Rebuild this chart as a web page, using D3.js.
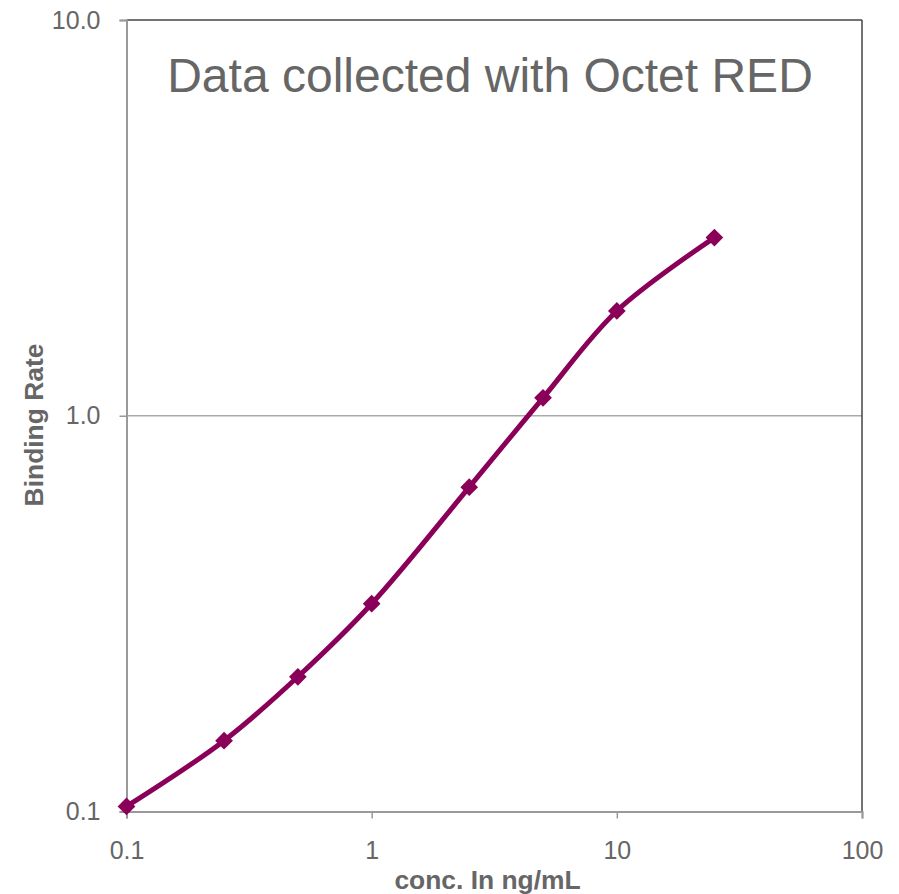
<!DOCTYPE html>
<html>
<head>
<meta charset="utf-8">
<script src="https://cdn.jsdelivr.net/npm/d3@7"></script>
<style>
  body { margin: 0; background: #fff; }
  svg { font-family: "Liberation Sans", Arial, sans-serif; }
</style>
</head>
<body>
<div id="chart"></div>
<script>
// concentration (ng/mL) and binding rate
const conc = [0.1, 0.25, 0.5, 1, 2.5, 5, 10, 25];
const binding = [0.103, 0.151, 0.219, 0.335, 0.66, 1.11, 1.84, 2.82];
const xTicks = [0.1, 1, 10, 100];
const yTicks = [0.1, 1, 10];
const title = 'Data collected with Octet RED';

const W = 899, H = 894;
const margin = { top: 20, right: 37, bottom: 82.5, left: 126.5 };
const width = W - margin.left - margin.right;
const height = H - margin.top - margin.bottom;

const svg = d3.select('#chart').append('svg')
    .attr('width', W)
    .attr('height', H);

const g = svg.append('g')
    .attr('transform', `translate(${margin.left},${margin.top})`);

const x = d3.scaleLog().domain([0.1, 100]).range([0, width]);
const y = d3.scaleLog().domain([0.1, 10]).range([height, 0]);

// gridline at 1.0
g.selectAll('.grid')
    .data(yTicks.filter(d => d > 0.1 && d < 10))
    .enter().append('line')
    .attr('x1', 0).attr('x2', width)
    .attr('y1', d => y(d)).attr('y2', d => y(d))
    .attr('stroke', '#aaa').attr('stroke-width', 1.5);

// frame: top/right darker
g.append('line').attr('x1', 0).attr('x2', width).attr('y1', 0).attr('y2', 0)
    .attr('stroke', '#444').attr('stroke-width', 1.5);
g.append('line').attr('x1', width).attr('x2', width).attr('y1', 0).attr('y2', height)
    .attr('stroke', '#444').attr('stroke-width', 1.5);

const xAxis = g.append('g')
    .attr('transform', `translate(0,${height})`)
    .call(d3.axisBottom(x).tickValues(xTicks).tickFormat(d3.format('~g')).tickSize(7).tickPadding(23));
const yAxis = g.append('g')
    .call(d3.axisLeft(y).tickValues(yTicks).tickFormat(d3.format('.1f')).tickSize(7).tickPadding(19));

[xAxis, yAxis].forEach(a => {
    a.attr('font-size', null).attr('font-family', null);
    a.select('.domain').attr('stroke', '#999').attr('stroke-width', 2);
    a.selectAll('.tick line').attr('stroke', '#999').attr('stroke-width', 1.5);
    a.selectAll('text')
        .attr('fill', '#666')
        .style('font-size', '25px');
});

const pts = conc.map((c, i) => [c, binding[i]]);

g.append('path')
    .datum(pts)
    .attr('fill', 'none')
    .attr('stroke', '#8a0058')
    .attr('stroke-width', 5)
    .attr('d', d3.line()
        .x(d => x(d[0]))
        .y(d => y(d[1]))
        .curve(d3.curveCatmullRom.alpha(0.5)));

g.selectAll('.pt')
    .data(pts)
    .enter().append('path')
    .attr('class', 'pt')
    .attr('transform', d => `translate(${x(d[0])},${y(d[1])})`)
    .attr('d', d3.symbol().type(d3.symbolDiamond2).size(200))
    .attr('fill', '#8a0058');

// title
g.append('text')
    .attr('x', 363.5)
    .attr('y', 72)
    .attr('text-anchor', 'middle')
    .attr('fill', '#666')
    .style('font-size', '48px')
    .text(title);

// axis titles
svg.append('text')
    .attr('x', 487.5)
    .attr('y', 889)
    .attr('text-anchor', 'middle')
    .attr('fill', '#666')
    .style('font-size', '26.4px')
    .style('font-weight', 'bold')
    .text('conc. In ng/mL');

svg.append('text')
    .attr('transform', `translate(43,425) rotate(-90)`)
    .attr('text-anchor', 'middle')
    .attr('fill', '#666')
    .style('font-size', '26.4px')
    .style('font-weight', 'bold')
    .text('Binding Rate');
</script>
</body>
</html>
